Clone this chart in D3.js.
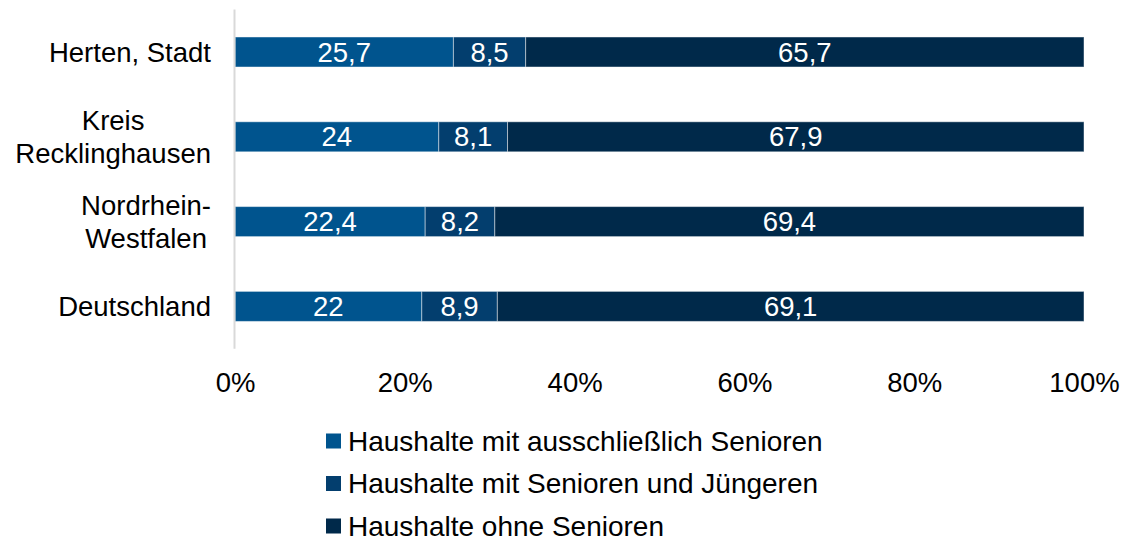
<!DOCTYPE html>
<html>
<head>
<meta charset="utf-8">
<script src="https://cdn.jsdelivr.net/npm/d3@7"></script>
<style>
  body { margin: 0; background: #fff; }
  svg { font-family: "Liberation Sans", Arial, sans-serif; }
</style>
</head>
<body>
<div id="chart"></div>
<script>
// data
const regions = ["Herten, Stadt", "Kreis\nRecklinghausen", "Nordrhein-\nWestfalen", "Deutschland"];
const seriesNames = ["Haushalte mit ausschließlich Senioren", "Haushalte mit Senioren und Jüngeren", "Haushalte ohne Senioren"];
const nurSenioren = [25.7, 24, 22.4, 22];
const mitJuengeren = [8.5, 8.1, 8.2, 8.9];
const ohneSenioren = [65.7, 67.9, 69.4, 69.1];
const ticks = [0, 0.2, 0.4, 0.6, 0.8, 1];
const colors = ["#00548e", "#033e6e", "#00294a"];

const width = 1127, height = 541;
const fontSize = 27.5;

const rows = regions.map((r, i) => ({
    region: r,
    s0: nurSenioren[i],
    s1: mitJuengeren[i],
    s2: ohneSenioren[i]
}));
const keys = ["s0", "s1", "s2"];

const svg = d3.select("#chart").append("svg")
    .attr("width", width)
    .attr("height", height);

const x = d3.scaleLinear().domain([0, 1]).range([235, 1084]);
const y = d3.scaleBand().domain(regions).range([9.6, 348.8]).paddingInner(0.646).paddingOuter(0.323);

const stacked = d3.stack().keys(keys).offset(d3.stackOffsetExpand)(rows);

// bars
const layer = svg.append("g").selectAll("g")
    .data(stacked)
    .enter().append("g")
    .attr("fill", (d, i) => colors[i]);

layer.selectAll("rect")
    .data(d => d.map(v => ({ v: v, key: d.key })))
    .enter().append("rect")
    .attr("x", d => x(d.v[0]))
    .attr("y", d => y(d.v.data.region))
    .attr("width", d => x(d.v[1]) - x(d.v[0]))
    .attr("height", y.bandwidth())
    .attr("stroke", "#fff")
    .attr("stroke-opacity", 0.45)
    .attr("stroke-width", 1);

// value labels
layer.selectAll("text")
    .data(d => d.map(v => ({ v: v, key: d.key })))
    .enter().append("text")
    .attr("x", d => (x(d.v[0]) + x(d.v[1])) / 2)
    .attr("y", d => y(d.v.data.region) + y.bandwidth() / 2)
    .attr("dy", "0.35em")
    .attr("text-anchor", "middle")
    .attr("fill", "#fff")
    .style("font-size", fontSize + "px")
    .text(d => String(d.v.data[d.key]).replace(".", ","));

// vertical axis line
svg.append("line")
    .attr("x1", x(0) - 0.5).attr("x2", x(0) - 0.5)
    .attr("y1", y.range()[0]).attr("y2", y.range()[1])
    .attr("stroke", "#d9d9d9")
    .attr("stroke-width", 2);

// x axis
const xAxis = d3.axisBottom(x).tickValues(ticks).tickFormat(d3.format(".0%")).tickSize(0).tickPadding(0);
const gx = svg.append("g")
    .attr("transform", "translate(0,392)")
    .call(xAxis);
gx.select(".domain").remove();
gx.selectAll("text")
    .attr("dy", 0)
    .attr("y", 0)
    .attr("fill", "#000")
    .style("font-size", fontSize + "px")
    .style("font-family", "Liberation Sans, Arial, sans-serif");

// category labels (lines centered, block right aligned)
const lineH = 33;
regions.forEach(r => {
    const lines = r.split("\n");
    const g = svg.append("g");
    const cy = y(r) + y.bandwidth() / 2;
    const t = g.append("text")
        .attr("text-anchor", "middle")
        .attr("fill", "#000")
        .style("font-size", fontSize + "px");
    lines.forEach((ln, i) => {
        t.append("tspan")
            .attr("x", 0)
            .attr("y", cy + 9.5 + (i - (lines.length - 1) / 2) * lineH)
            .text(ln);
    });
    const w = d3.max(t.selectAll("tspan").nodes(), n => n.getComputedTextLength());
    t.attr("transform", "translate(" + (211 - w / 2) + ",0)");
});

// legend
const legend = svg.append("g").selectAll("g")
    .data(seriesNames)
    .enter().append("g")
    .attr("transform", (d, i) => "translate(326," + (441 + i * 42.5) + ")");
legend.append("rect")
    .attr("x", 0).attr("y", -7.5)
    .attr("width", 15).attr("height", 15)
    .attr("fill", (d, i) => colors[i]);
legend.append("text")
    .attr("x", 22)
    .attr("y", 9.5)
    .attr("fill", "#000")
    .style("font-size", "28px")
    .text(d => d);
</script>
</body>
</html>
